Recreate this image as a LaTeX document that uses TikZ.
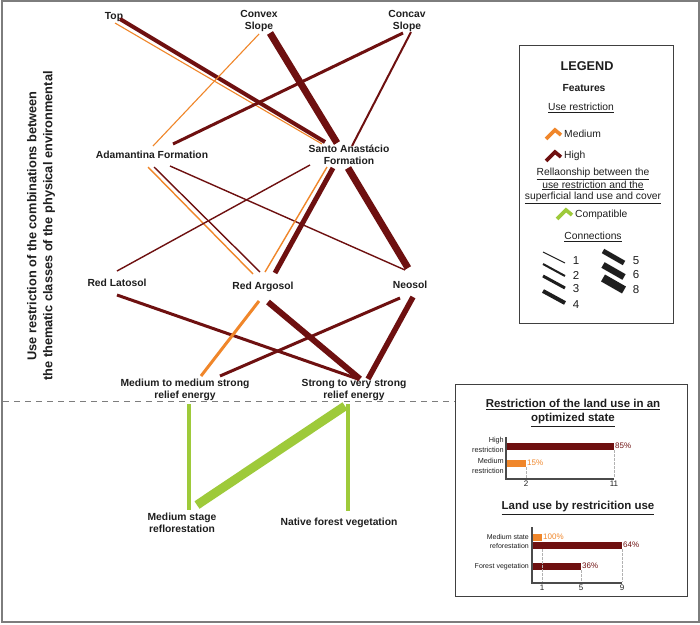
\documentclass[tikz,border=0pt]{standalone}
\usepackage{fontspec}
\setmainfont{Liberation Sans}
\usetikzlibrary{calc}
\definecolor{hiC}{RGB}{110,16,16}
\definecolor{medC}{RGB}{240,134,42}
\definecolor{compC}{RGB}{158,202,58}
\definecolor{frameC}{RGB}{125,125,125}
\definecolor{inkC}{RGB}{30,30,30}
\begin{document}
\begin{tikzpicture}[x=1pt,y=-1pt,
  lbl/.style={font=\fontsize{10.3}{12}\selectfont\bfseries, align=center, inner sep=0pt, text=inkC},
  legtxt/.style={font=\fontsize{10.3}{11.6}\selectfont, align=center, inner sep=0pt, text=inkC},
  small/.style={font=\fontsize{7.3}{9.3}\selectfont, align=right, inner sep=0pt, text=inkC},
  tick/.style={font=\fontsize{8}{9}\selectfont, inner sep=0pt, text=inkC},
  pct/.style={font=\fontsize{8}{9}\selectfont, inner sep=0pt, anchor=west},
  ctitle/.style={font=\fontsize{11.5}{14}\selectfont\bfseries, align=center, inner sep=0pt, text=inkC},
  hiline/.style={draw=hiC, line width=#1pt},
  medline/.style={draw=medC, line width=#1pt},
  compline/.style={draw=compC, line width=#1pt},
  legline/.style={draw=inkC, line width=#1pt},
  guide/.style={draw=gray!60, dashed, dash pattern=on 2.5pt off 1.5pt, line width=0.6pt},
  axis/.style={draw=inkC!80, line width=1.3pt},
  boxline/.style={draw=inkC!85, line width=1pt}
]
\useasboundingbox (0,0) rectangle (700,624);
\fill[white] (0,0) rectangle (700,624);
\draw[frameC, line width=1.5pt] (2,1) rectangle (699,622);

% ---- side title
\node[font=\fontsize{12.8}{16}\selectfont\bfseries, align=center, rotate=90, inner sep=0pt, text=inkC] (ytitle) at (41,226)
  {Use restriction of the combinations between\\the thematic classes of the physical environmental};

% ---- separator
\draw[frameC, dash pattern=on 6pt off 5pt, line width=0.8pt] (3,401) -- (455,401);

% ---- nodes
\node[lbl] (top) at (114,17) {Top};
\node[lbl] (convex) at (259,21) {Convex\\Slope};
\node[lbl] (concav) at (407,21) {Concav\\Slope};
\node[lbl] (adam) at (152,155) {Adamantina Formation};
\node[lbl] (santo) at (349,155) {Santo Anastácio\\Formation};
\node[lbl] (latosol) at (117,283) {Red Latosol};
\node[lbl] (argosol) at (263,287) {Red Argosol};
\node[lbl] (neosol) at (410,285) {Neosol};
\node[lbl] (medium) at (185,390) {Medium to medium strong\\relief energy};
\node[lbl] (strong) at (354,390) {Strong to very strong\\relief energy};
\node[lbl] (mstage) at (182,523) {Medium stage\\reflorestation};
\node[lbl] (native) at (339,523) {Native forest vegetation};

% ---- connectors: landform -> geology
\draw[medline=1.1] ($(top)+(1,6)$) -- ($(santo)+(-27,-11)$);
\draw[hiline=4] ($(top)+(6,2)$) -- ($(santo)+(-24,-13)$);
\draw[medline=1.1] ($(convex)+(0,13)$) -- ($(adam)+(1,-9)$);
\draw[hiline=7] ($(convex)+(11,12)$) -- ($(santo)+(-12,-12)$);
\draw[hiline=3] ($(concav)+(-4,12)$) -- ($(adam)+(21,-11)$);
\draw[hiline=2] ($(concav)+(4,11)$) -- ($(santo)+(3,-9)$);

% ---- geology -> soils
\draw[medline=1.4] ($(adam)+(-4,12)$) -- ($(argosol)+(-10,-13)$);
\draw[hiline=1.4] ($(adam)+(2,12)$) -- ($(argosol)+(-3,-15)$);
\draw[hiline=1.4] ($(adam)+(18,11)$) -- ($(neosol)+(-5,-15)$);
\draw[hiline=1.4] ($(santo)+(-39,10)$) -- ($(latosol)+(0,-12)$);
\draw[medline=1.4] ($(santo)+(-22,12)$) -- ($(argosol)+(2,-15)$);
\draw[hiline=5] ($(santo)+(-16,13)$) -- ($(argosol)+(12,-14)$);
\draw[hiline=7] ($(santo)+(-1,13)$) -- ($(neosol)+(-2,-17)$);

% ---- soils -> relief
\draw[hiline=3] ($(latosol)+(0,12)$) -- ($(strong)+(4,-11)$);
\draw[medline=3] ($(argosol)+(-4,14)$) -- ($(medium)+(16,-14)$);
\draw[hiline=6] ($(argosol)+(5,15)$) -- ($(strong)+(6,-11)$);
\draw[hiline=3] ($(neosol)+(-10,13)$) -- ($(medium)+(35,-14)$);
\draw[hiline=5.5] ($(neosol)+(3,12)$) -- ($(strong)+(14,-11)$);

% ---- relief -> land use
\draw[compline=4] ($(medium)+(4,14)$) -- ($(mstage)+(7,-13)$);
\draw[compline=9] ($(strong)+(-9,16)$) -- ($(mstage)+(15,-18)$);
\draw[compline=4.5] ($(strong)+(-6,14)$) -- ($(native)+(9,-12)$);

% ---- legend
\draw[boxline] (519,45) rectangle (673,323);
\node[font=\fontsize{12.7}{14}\selectfont\bfseries, inner sep=0pt, text=inkC] (legt) at (587,66) {LEGEND};
\node[lbl] (feat) at (584,88) {Features};
\node[legtxt] (ures) at (581,108) {\underline{Use restriction}};
\draw[medC, line width=3.6pt, line join=miter] (546,139) -- (555,130) -- (561,135);
\node[legtxt, anchor=west] (lmed) at (564,134) {Medium};
\draw[hiC, line width=3.6pt, line join=miter] (546,161) -- (555,152) -- (561,157);
\node[legtxt, anchor=west] (lhigh) at (564,156) {High};
\node[legtxt] (rel) at (593,186) {\underline{Rellaonship between the}\\\underline{use restriction and the}\\\underline{superficial land use and cover}};
\draw[compC, line width=3.6pt, line join=miter] (557,219) -- (566,210) -- (572,215);
\node[legtxt, anchor=west] (lcomp) at (575,215) {Compatible};
\node[legtxt] (conn) at (593,237) {\underline{Connections}};
\coordinate (c1a) at (543,252); \coordinate (c1b) at (565,263);
\coordinate (c2a) at (543,264); \coordinate (c2b) at (565,276);
\coordinate (c3a) at (543,276); \coordinate (c3b) at (565,288);
\coordinate (c4a) at (543,291); \coordinate (c4b) at (565,303);
\coordinate (c5a) at (603,251); \coordinate (c5b) at (624,263);
\coordinate (c6a) at (603,265); \coordinate (c6b) at (624,277);
\coordinate (c8a) at (603,278); \coordinate (c8b) at (624,290);
\draw[legline=1] (c1a) -- (c1b);
\draw[legline=2] (c2a) -- (c2b);
\draw[legline=3] (c3a) -- (c3b);
\draw[legline=4] (c4a) -- (c4b);
\draw[legline=5] (c5a) -- (c5b);
\draw[legline=6.5] (c6a) -- (c6b);
\draw[legline=8] (c8a) -- (c8b);
\node[font=\fontsize{11.5}{12}\selectfont, inner sep=0pt, text=inkC] (n1) at (576,261) {1};
\node[font=\fontsize{11.5}{12}\selectfont, inner sep=0pt, text=inkC] (n2) at (576,275) {2};
\node[font=\fontsize{11.5}{12}\selectfont, inner sep=0pt, text=inkC] (n3) at (576,289) {3};
\node[font=\fontsize{11.5}{12}\selectfont, inner sep=0pt, text=inkC] (n4) at (576,305) {4};
\node[font=\fontsize{11.5}{12}\selectfont, inner sep=0pt, text=inkC] (n5) at (636,261) {5};
\node[font=\fontsize{11.5}{12}\selectfont, inner sep=0pt, text=inkC] (n6) at (636,275) {6};
\node[font=\fontsize{11.5}{12}\selectfont, inner sep=0pt, text=inkC] (n8) at (636,290) {8};

% ---- charts box
\draw[boxline] (455,384) rectangle (687,596);
\node[ctitle] (t1) at (573,413) {\underline{Restriction of the land use in an}\\\underline{optimized state}};
% chart 1
\fill[hiC] (506,443) rectangle (614,450);
\fill[medC] (506,460) rectangle (526,467);
\draw[guide] (526,467) -- (526,478);
\draw[guide] (614,450) -- (614,478);
\draw[axis] (506,437) -- (506,479) -- (614,479);
\node[tick] (x2) at (526,484) {2};
\node[tick] (x11) at (614,484) {11};
\node[pct, text=hiC] (p85) at (615,446) {85\%};
\node[pct, text=medC] (p15) at (527,463) {15\%};
\node[small, anchor=east] (lh) at (504,445) {High\\restriction};
\node[small, anchor=east] (lm) at (504,466) {Medium\\restriction};
% chart 2
\node[ctitle] (t2) at (578,508) {\underline{Land use by restricition use}};
\fill[medC] (532,534) rectangle (542,541);
\fill[hiC] (532,542) rectangle (622,549);
\fill[hiC] (532,563) rectangle (581,570);
\draw[guide] (542,549) -- (542,582);
\draw[guide] (581,570) -- (581,582);
\draw[guide] (622,549) -- (622,582);
\draw[axis] (532,527) -- (532,583) -- (622,583);
\node[tick] (y1) at (542,588) {1};
\node[tick] (y5) at (581,588) {5};
\node[tick] (y9) at (622,588) {9};
\node[pct, text=medC] (p100) at (543,537) {100\%};
\node[pct, text=hiC] (p64) at (623,545) {64\%};
\node[pct, text=hiC] (p36) at (582,566) {36\%};
\node[small, anchor=east, font=\fontsize{7}{9}\selectfont] (lms) at (529,541) {Medium state\\reforestation};
\node[small, anchor=east, font=\fontsize{7}{9}\selectfont] (lfv) at (529,567) {Forest vegetation};
\end{tikzpicture}
\end{document}
